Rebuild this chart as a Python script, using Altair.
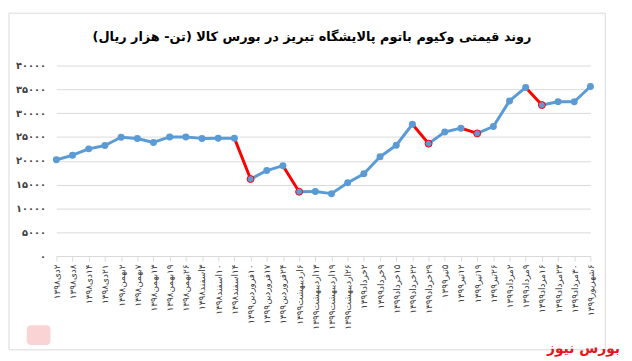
import altair as alt
import pandas as pd

categories = [
    "۲دی۱۳۹۸", "۸دی۱۳۹۸", "۱۴دی۱۳۹۸", "۲۱دی۱۳۹۸",
    "۲بهمن۱۳۹۸", "۷بهمن۱۳۹۸", "۱۳بهمن۱۳۹۸", "۱۹بهمن۱۳۹۸", "۲۶بهمن۱۳۹۸",
    "۳اسفند۱۳۹۸", "۱۰اسفند۱۳۹۸", "۱۴اسفند۱۳۹۸",
    "۱۰فروردین۱۳۹۹", "۱۷فروردین۱۳۹۹", "۲۴فروردین۱۳۹۹",
    "۶اردیبهشت۱۳۹۹", "۱۳اردیبهشت۱۳۹۹", "۱۹اردیبهشت۱۳۹۹", "۲۶اردیبهشت۱۳۹۹",
    "۲خرداد۱۳۹۹", "۹خرداد۱۳۹۹", "۱۵خرداد۱۳۹۹", "۲۲خرداد۱۳۹۹", "۲۹خرداد۱۳۹۹",
    "۵تیر۱۳۹۹", "۱۲تیر۱۳۹۹", "۱۹تیر۱۳۹۹", "۲۶تیر۱۳۹۹",
    "۲مرداد۱۳۹۹", "۹مرداد۱۳۹۹", "۱۶مرداد۱۳۹۹", "۲۳مرداد۱۳۹۹", "۳۰مرداد۱۳۹۹",
    "۶شهریور۱۳۹۹",
]
prices = [
    20200, 21170, 22500, 23200,
    24950, 24670, 23850, 25000, 24980,
    24700, 24750, 24750,
    16170, 17950, 18970,
    13500, 13550, 13100, 15400,
    17260, 20830, 23260, 27670, 23600,
    26030, 26850, 25750, 27200,
    32570, 35400, 31700, 32400, 32400,
    35600,
]
# indices of points that end a highlighted (red) drop segment
red_drop_ends = [12, 15, 23, 26, 30]
y_ticks = [0, 5000, 10000, 15000, 20000, 25000, 30000, 35000, 40000]

RLE, PDF = "\u202B", "\u202C"
title_text = "روند قیمتی وکیوم باتوم پالایشگاه تبریز در بورس کالا (تن- هزار ریال)"
brand_text = "بورس نیوز"

BLUE = "#5b9bd5"
RED = "#ff0000"
FONT = "DejaVu Sans"

seg = pd.DataFrame({
    "x": categories[:-1],
    "x2": categories[1:],
    "y": prices[:-1],
    "y2": prices[1:],
    "kind": ["down" if (i + 1) in red_drop_ends else "up" for i in range(len(categories) - 1)],
})
pts = pd.DataFrame({
    "x": categories,
    "y": prices,
    "kind": ["down" if i in red_drop_ends else "up" for i in range(len(categories))],
})

persian_digits = "۰۱۲۳۴۵۶۷۸۹"
label_expr = "datum.label"
for i, d in enumerate(persian_digits):
    label_expr = f"replace({label_expr}, regexp('{i}', 'g'), '{d}')"

xlabel_expr = f"'{RLE}' + datum.label + '{PDF}'"

x_enc = alt.X(
    "x:N",
    sort=categories,
    scale=alt.Scale(type="point", domain=categories, padding=0),
    axis=alt.Axis(
        title=None, labelAngle=-90, labelFont=FONT, labelFontSize=9,
        labelColor="#404040", labelPadding=3, labelLimit=200, labelOverlap=False,
        domainColor="#d9d9d9", tickColor="#d9d9d9", tickSize=5, grid=False,
        labelExpr=xlabel_expr,
    ),
)
y_enc = alt.Y(
    "y:Q",
    scale=alt.Scale(domain=[0, 40000], nice=False),
    axis=alt.Axis(
        title=None, values=y_ticks, format="d", labelExpr=label_expr, labelOverlap=False,
        labelFont=FONT, labelFontSize=10, labelFontWeight="bold", labelColor="#404040",
        labelPadding=11, ticks=False, domain=False, gridColor="#d9d9d9",
    ),
)

lines = alt.Chart(seg).mark_rule(strokeWidth=3, strokeCap="round").encode(
    x=x_enc, x2="x2:N", y=y_enc, y2="y2:Q",
    color=alt.Color("kind:N", scale=alt.Scale(domain=["up", "down"], range=[BLUE, RED]), legend=None),
)

points = alt.Chart(pts).mark_point(filled=True, size=50, opacity=1, color=BLUE).encode(
    x=x_enc, y=y_enc,
)
red_points = alt.Chart(pts[pts["kind"] == "down"]).mark_point(
    filled=False, size=50, strokeWidth=1, color=RED, opacity=1
).encode(
    x=x_enc, y=y_enc,
)

one = pd.DataFrame({"t": [title_text]})
frame = alt.Chart(one).mark_rect(fillOpacity=0, stroke="#d9d9d9", strokeWidth=1).encode(
    x=alt.value(-48), x2=alt.value(556), y=alt.value(-53), y2=alt.value(288),
)
title = alt.Chart(one).mark_text(
    font=FONT, fontSize=13, fontWeight="bold", color="#000000", align="center", baseline="middle"
).encode(
    x=alt.value(259), y=alt.value(-29), text=alt.value(RLE + title_text + PDF),
)
brand = alt.Chart(one).mark_text(
    font=FONT, fontSize=14, fontWeight="bold", color="#e8141b", align="right", baseline="middle"
).encode(
    x=alt.value(571), y=alt.value(287), text=alt.value(RLE + brand_text + PDF),
)
logo = alt.Chart(one).mark_rect(color="#f4a0a0", opacity=0.45, cornerRadius=4).encode(
    x=alt.value(-30), x2=alt.value(-6), y=alt.value(263), y2=alt.value(283),
)

chart = alt.layer(lines, points, red_points, frame, logo, title, brand).properties(
    width=541, height=193,
    autosize=alt.AutoSizeParams(type="none"),
    padding={"left": 49, "top": 56, "right": 34, "bottom": 100},
    background="white",
).configure_view(stroke=None)

chart.save("out.html", embed_options={"renderer": "svg", "actions": False})
